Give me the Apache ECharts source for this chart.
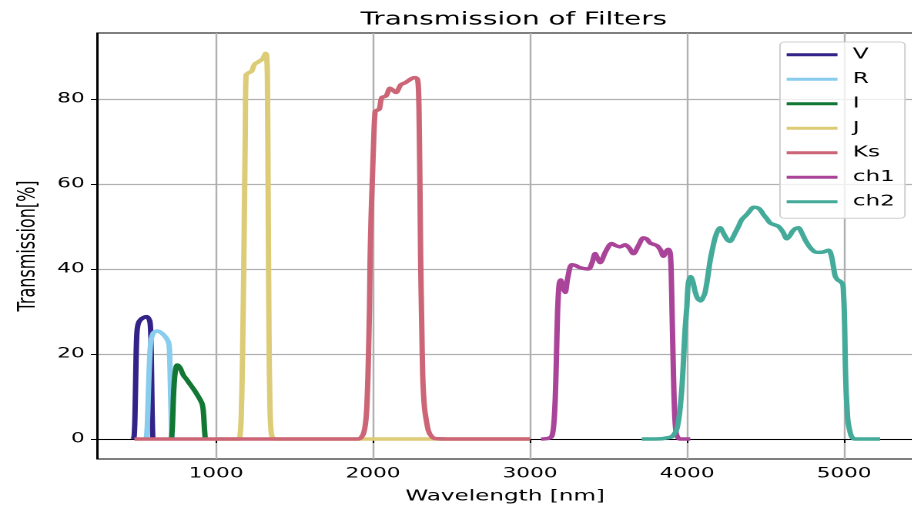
<!DOCTYPE html>
<html>
<head>
<meta charset="utf-8">
<script src="https://cdn.jsdelivr.net/npm/echarts@6/dist/echarts.min.js"></script>
<style>
  html, body { margin: 0; padding: 0; overflow: hidden; background: #fff; }
  /* the reference figure is stretched sideways, so draw narrow and scale */
  #chart { width: 600px; height: 509px; transform: scaleX(1.54); transform-origin: 0 0; }
</style>
</head>
<body>
<div id="chart"></div>
<script>
const FONT = "DejaVu Sans";

const filterNames = ["V", "R", "I", "J", "Ks", "ch1", "ch2"];
const filterColors = ["#332288", "#88CCEE", "#117733", "#DDCC77", "#CC6677", "#AA4499", "#44AA99"];

const xTicks = [1000, 2000, 3000, 4000, 5000];
const yTicks = [0, 20, 40, 60, 80];

const vWave = [470, 478, 484, 490, 496, 505, 520, 540, 558, 572, 580, 585, 589, 593, 597];
const vTrans = [0, 0.5, 6, 18, 25, 27.2, 28.1, 28.6, 28.8, 28.3, 27.3, 24, 16, 6, 0];

const rWave = [556, 562, 571, 578, 585, 600, 622, 654, 686, 700, 705, 709, 713, 717, 721];
const rTrans = [0, 3, 13, 19.5, 23, 24.9, 25.4, 24.9, 23.6, 22.3, 19, 13, 7, 2, 0];

const iWave = [716, 722, 728, 734, 740, 746, 753, 762, 772, 792, 813, 834, 856, 877, 898, 910, 917, 922, 926, 931];
const iTrans = [0, 3, 9.4, 13.5, 15.8, 17, 17.4, 17.2, 16.7, 15, 14, 12.9, 11.8, 10.6, 9.3, 8.4, 7.2, 5, 2.5, 0];

const jWave = [1000, 1100, 1145, 1152, 1160, 1167, 1174, 1180, 1186, 1191, 1210, 1227, 1240, 1250, 1265,
  1280, 1295, 1305, 1315, 1322, 1327, 1332, 1337, 1343, 1350, 1360, 1380, 1500, 2000, 2500, 3000];
const jTrans = [0, 0, 0, 0.5, 5, 16, 33, 52, 72, 85.6, 86.2, 86.5, 87.8, 88.3, 88.6,
  89, 89.3, 90, 90.7, 90.3, 85, 55, 25, 8, 2, 0.3, 0, 0, 0, 0, 0];

const ksWave = [480, 1000, 1500, 1850, 1907, 1938, 1955, 1964, 1970, 1977, 1981, 1987, 1996, 2004, 2013,
  2023, 2040, 2055, 2083, 2108, 2125, 2146, 2176, 2204, 2246, 2268, 2283, 2290, 2294, 2299,
  2303, 2310, 2316, 2323, 2331, 2352, 2375, 2400, 2500, 3000];
const ksTrans = [0, 0, 0, 0, 0, 1.2, 4.7, 11, 18.8, 30.5, 42, 51.6, 61.8, 70.4, 77,
  77.3, 77.6, 80.3, 80.7, 82.5, 82.1, 81.5, 83.3, 83.8, 84.8, 85, 84.6, 81.3, 73.5, 58,
  42, 26.6, 15, 9.5, 6.3, 2, 0.5, 0.1, 0, 0];

const ch1Wave = [3070, 3120, 3140, 3152, 3160, 3167, 3175, 3185, 3195, 3210, 3223, 3240, 3265, 3290, 3318,
  3371, 3395, 3414, 3430, 3446, 3480, 3520, 3545, 3573, 3605, 3630, 3658, 3690, 3722, 3745,
  3764, 3807, 3830, 3849, 3868, 3881, 3892, 3898, 3904, 3910, 3916, 3922, 3930, 3940, 3955, 4020];
const ch1Trans = [0, 0.2, 0.8, 4, 9.4, 18, 30, 36.5, 37.4, 35.5, 34.5, 38, 41, 40.8, 40.3,
  40, 41.5, 43.6, 42.5, 41.5, 44, 46, 45.5, 45.2, 45.7, 45, 43.6, 45.5, 47.3, 47,
  46.1, 45.5, 44.5, 43, 44.2, 44.6, 43.8, 40, 30, 20, 11, 5, 1.5, 0.4, 0, 0];

const ch2Wave = [3711, 3800, 3892, 3915, 3934, 3950, 3966, 3977, 3987, 3998, 4008, 4023, 4038, 4050, 4068,
  4087, 4100, 4114, 4130, 4146, 4162, 4178, 4195, 4210, 4226, 4242, 4258, 4274, 4290, 4306,
  4327, 4348, 4380, 4400, 4422, 4454, 4470, 4486, 4508, 4529, 4555, 4582, 4610, 4635, 4655,
  4672, 4690, 4709, 4730, 4751, 4772, 4794, 4815, 4837, 4870, 4900, 4911, 4922, 4932, 4943,
  4960, 4975, 4991, 4996, 5000, 5004, 5008, 5013, 5018, 5025, 5038, 5050, 5070, 5229];
const ch2Trans = [0, 0, 0.4, 1, 2.3, 5.5, 11.7, 18.5, 25.8, 31, 36.8, 38.2, 36.8, 34.8, 33,
  32.5, 33.2, 34.4, 37.8, 41.8, 44.8, 47.3, 49, 49.7, 48.8, 47.7, 46.8, 46.5, 47.3, 48.5,
  50, 51.6, 52.8, 53.7, 54.5, 54.3, 53.7, 52.8, 51.8, 50.8, 50.4, 50, 48.7, 47.1, 47.9,
  48.9, 49.5, 49.7, 48.5, 46.9, 45.6, 44.6, 44, 43.9, 44, 44.4, 44, 42.6, 40.5, 38.3,
  37.4, 37.1, 36.4, 34, 31, 25, 17, 11, 7.5, 4, 1.6, 0.4, 0, 0];

const curves = [
  [vWave, vTrans], [rWave, rTrans], [iWave, iTrans], [jWave, jTrans],
  [ksWave, ksTrans], [ch1Wave, ch1Trans], [ch2Wave, ch2Trans],
];

const chart = echarts.init(document.getElementById("chart"), null, { devicePixelRatio: 2 });

const series = curves.map(([wave, trans], i) => ({
  name: filterNames[i],
  type: "line",
  data: wave.map((w, j) => [w, trans[j]]),
  symbol: "none",
  smooth: 0.3,
  lineStyle: { width: 3.5, color: filterColors[i] },
  itemStyle: { color: filterColors[i] },
}));

chart.setOption({
  animation: false,
  backgroundColor: "#fff",
  title: {
    text: "Transmission of Filters",
    left: 328.6,
    top: 6,
    textAlign: "center",
    textStyle: { fontFamily: FONT, fontSize: 18, fontWeight: "normal", color: "#000" },
  },
  legend: {
    orient: "vertical",
    left: 506.5,
    top: 42,
    icon: "rect",
    itemWidth: 33,
    itemHeight: 3,
    itemGap: 9.5,
    padding: [5.3, 6.5, 9, 4.3],
    backgroundColor: "rgba(255,255,255,0.8)",
    borderColor: "#d0d0d0",
    borderWidth: 1,
    borderRadius: 3,
    itemStyle: { borderWidth: 0 },
    lineStyle: { width: 3 },
    textStyle: { fontFamily: FONT, fontSize: 15, color: "#000", padding: [0, 0, 0, 5], lineHeight: 14 },
    data: filterNames,
  },
  grid: { left: 63, right: 7, top: 33, bottom: 49, show: true, borderColor: "#000", borderWidth: 1 },
  xAxis: {
    type: "value",
    min: 242,
    max: 5440,
    name: "Wavelength [nm]",
    nameLocation: "middle",
    nameGap: 30,
    nameTextStyle: { fontFamily: FONT, fontSize: 15, color: "#000" },
    axisLine: { lineStyle: { color: "#000", width: 1 } },
    axisTick: { customValues: xTicks, length: 4, lineStyle: { color: "#000" } },
    axisLabel: {
      customValues: xTicks,
      formatter: (v) => String(v),
      fontFamily: FONT, fontSize: 14, color: "#000", margin: 8,
    },
    splitLine: { show: true, lineStyle: { color: "#b0b0b0", width: 1.2 } },
  },
  yAxis: {
    type: "value",
    min: -4.7,
    max: 95.5,
    name: "Transmission[%]",
    nameLocation: "middle",
    nameGap: 31,
    nameRotate: 90,
    nameTextStyle: { fontFamily: FONT, fontSize: 16, color: "#000" },
    axisLine: { show: true, lineStyle: { color: "#000", width: 1 } },
    axisTick: { show: true, customValues: yTicks, length: 4, lineStyle: { color: "#000" } },
    axisLabel: { customValues: yTicks, fontFamily: FONT, fontSize: 14, color: "#000", margin: 8 },
    splitLine: { show: true, lineStyle: { color: "#b0b0b0", width: 1.2 } },
  },
  series,
});
</script>
</body>
</html>
